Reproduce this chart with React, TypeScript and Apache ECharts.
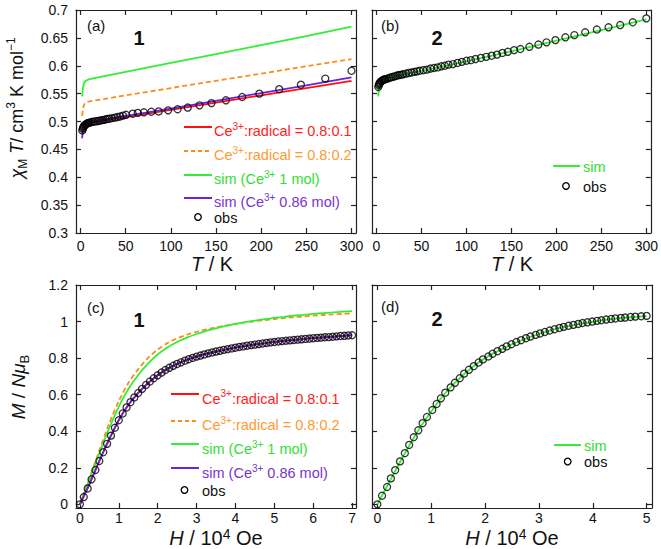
import React, { useEffect, useRef } from "react";
import * as echarts from "echarts";

// ---------- Panel (a): compound 1, chi_M T vs T ----------
const aObsT = [2, 2.5, 3, 3.5, 4, 5, 6, 7, 8, 9, 10, 12, 14, 16, 18, 20, 22, 24, 26, 28, 30, 32, 35, 38, 41, 44, 47, 50.4, 57.8, 63.4, 70.2, 78.4, 86.5, 97, 107.5, 118.7, 131.7, 145, 161, 179, 198, 220, 244, 271, 300];
const aObsChi = [0.484, 0.487, 0.489, 0.491, 0.492, 0.494, 0.495, 0.496, 0.497, 0.4975, 0.498, 0.499, 0.4995, 0.5, 0.5005, 0.501, 0.502, 0.5025, 0.503, 0.504, 0.5045, 0.505, 0.506, 0.507, 0.508, 0.509, 0.5105, 0.512, 0.514, 0.5155, 0.5165, 0.5175, 0.518, 0.52, 0.522, 0.525, 0.529, 0.533, 0.538, 0.544, 0.55, 0.558, 0.566, 0.577, 0.591];
const aSimT = [1.8, 2.5, 3, 4, 5, 7, 10, 50, 100, 150, 200, 250, 300];
const aRed = [0.478, 0.486, 0.49, 0.494, 0.496, 0.497, 0.498, 0.508, 0.521, 0.534, 0.547, 0.56, 0.573];
const aOrange = [0.51, 0.52, 0.525, 0.53, 0.533, 0.535, 0.536, 0.547, 0.56, 0.573, 0.586, 0.599, 0.612];
const aGreen = [0.545, 0.558, 0.563, 0.569, 0.572, 0.574, 0.576, 0.589, 0.605, 0.621, 0.637, 0.653, 0.67];
const aPurple = [0.47, 0.481, 0.486, 0.491, 0.494, 0.497, 0.499, 0.51, 0.523, 0.537, 0.551, 0.565, 0.579];

// ---------- Panel (b): compound 2, chi_M T vs T ----------
const bObsT = [2, 2.5, 3, 3.5, 4, 5, 6, 7, 8, 9, 10, 12, 14, 16, 18, 20, 22, 24, 26, 28, 30, 33, 36, 39, 42, 45, 48, 52, 56, 60, 64, 68, 72, 76, 80, 85, 90, 95, 100, 105, 110, 116, 122, 128, 134, 140, 146, 153, 160, 170, 180, 189, 199, 210, 220, 232, 245, 258, 271, 285, 300];
const bObsChi = [0.562, 0.565, 0.567, 0.569, 0.57, 0.572, 0.573, 0.574, 0.575, 0.5755, 0.576, 0.577, 0.578, 0.579, 0.58, 0.581, 0.582, 0.583, 0.5835, 0.584, 0.585, 0.586, 0.587, 0.588, 0.589, 0.59, 0.591, 0.592, 0.593, 0.595, 0.596, 0.597, 0.599, 0.6, 0.602, 0.603, 0.605, 0.607, 0.609, 0.61, 0.612, 0.614, 0.616, 0.618, 0.62, 0.623, 0.625, 0.628, 0.63, 0.634, 0.638, 0.642, 0.646, 0.651, 0.655, 0.66, 0.665, 0.669, 0.673, 0.678, 0.685];
const bSimT = [1.8, 2.5, 3, 4, 5, 7, 10, 20, 50, 100, 150, 200, 250, 300];
const bSim = [0.545, 0.555, 0.561, 0.566, 0.57, 0.574, 0.577, 0.581, 0.591, 0.608, 0.626, 0.645, 0.664, 0.683];

// ---------- Panel (c): compound 1, M vs H ----------
const cObsH = [0, 0.1, 0.2, 0.3, 0.4, 0.5, 0.6, 0.7, 0.8, 0.9, 1.0, 1.1, 1.2, 1.3, 1.4, 1.5, 1.6, 1.7, 1.8, 1.9, 2.0, 2.1, 2.2, 2.3, 2.4, 2.5, 2.6, 2.7, 2.8, 2.9, 3.0, 3.1, 3.2, 3.3, 3.4, 3.5, 3.6, 3.7, 3.8, 3.9, 4.0, 4.1, 4.2, 4.3, 4.4, 4.5, 4.6, 4.7, 4.8, 4.9, 5.0, 5.1, 5.2, 5.3, 5.4, 5.5, 5.6, 5.7, 5.8, 5.9, 6.0, 6.1, 6.2, 6.3, 6.4, 6.5, 6.6, 6.7, 6.8, 6.9, 7.0];
const cObsM = [0, 0.04, 0.087, 0.137, 0.188, 0.237, 0.285, 0.331, 0.376, 0.419, 0.46, 0.497, 0.53, 0.559, 0.585, 0.609, 0.632, 0.653, 0.672, 0.69, 0.706, 0.721, 0.735, 0.747, 0.758, 0.768, 0.777, 0.786, 0.794, 0.801, 0.808, 0.814, 0.82, 0.826, 0.831, 0.836, 0.84, 0.845, 0.849, 0.853, 0.857, 0.861, 0.864, 0.868, 0.871, 0.874, 0.877, 0.88, 0.883, 0.886, 0.888, 0.891, 0.893, 0.895, 0.897, 0.899, 0.901, 0.903, 0.905, 0.907, 0.909, 0.911, 0.912, 0.914, 0.915, 0.917, 0.919, 0.921, 0.922, 0.924, 0.925];
const cSimH = [0, 0.25, 0.5, 0.75, 1.0, 1.25, 1.5, 1.75, 2.0, 2.25, 2.5, 2.75, 3.0, 3.25, 3.5, 3.75, 4.0, 4.25, 4.5, 4.75, 5.0, 5.25, 5.5, 5.75, 6.0, 6.25, 6.5, 6.75, 7.0];
const cRed = [0, 0.113, 0.238, 0.355, 0.461, 0.546, 0.61, 0.663, 0.707, 0.742, 0.769, 0.791, 0.809, 0.824, 0.837, 0.848, 0.858, 0.867, 0.875, 0.882, 0.889, 0.895, 0.9, 0.905, 0.91, 0.914, 0.918, 0.922, 0.926];
const cOrange = [0, 0.145, 0.295, 0.44, 0.565, 0.665, 0.74, 0.8, 0.847, 0.882, 0.908, 0.928, 0.944, 0.957, 0.968, 0.978, 0.987, 0.995, 1.002, 1.008, 1.014, 1.019, 1.024, 1.028, 1.032, 1.036, 1.039, 1.042, 1.045];
const cGreen = [0, 0.14, 0.28, 0.415, 0.535, 0.632, 0.708, 0.77, 0.82, 0.858, 0.888, 0.912, 0.932, 0.949, 0.963, 0.976, 0.987, 0.997, 1.005, 1.013, 1.02, 1.026, 1.032, 1.037, 1.042, 1.046, 1.05, 1.054, 1.057];
const cPurple = [0, 0.112, 0.237, 0.354, 0.46, 0.545, 0.609, 0.662, 0.706, 0.741, 0.768, 0.79, 0.808, 0.823, 0.836, 0.847, 0.857, 0.866, 0.874, 0.881, 0.888, 0.894, 0.899, 0.904, 0.909, 0.913, 0.917, 0.921, 0.925];

// ---------- Panel (d): compound 2, M vs H ----------
const dObsH = [0, 0.087, 0.18, 0.25, 0.33, 0.42, 0.51, 0.59, 0.675, 0.76, 0.84, 0.92, 1.02, 1.1, 1.18, 1.26, 1.36, 1.44, 1.53, 1.61, 1.7, 1.79, 1.88, 1.96, 2.06, 2.14, 2.23, 2.32, 2.4, 2.49, 2.58, 2.67, 2.76, 2.84, 2.94, 3.02, 3.11, 3.2, 3.29, 3.38, 3.46, 3.55, 3.64, 3.73, 3.81, 3.9, 3.99, 4.08, 4.16, 4.25, 4.34, 4.42, 4.52, 4.6, 4.7, 4.79, 4.9, 5.0];
const dObsM = [0, 0.047, 0.095, 0.142, 0.187, 0.235, 0.28, 0.325, 0.367, 0.405, 0.444, 0.478, 0.516, 0.549, 0.58, 0.611, 0.64, 0.665, 0.69, 0.715, 0.736, 0.756, 0.776, 0.793, 0.809, 0.824, 0.838, 0.851, 0.864, 0.876, 0.888, 0.898, 0.909, 0.918, 0.927, 0.935, 0.943, 0.951, 0.958, 0.965, 0.971, 0.977, 0.982, 0.987, 0.992, 0.996, 1.0, 1.004, 1.007, 1.011, 1.014, 1.017, 1.02, 1.022, 1.025, 1.027, 1.029, 1.031];
const dSimH = [0, 0.25, 0.5, 0.75, 1.0, 1.25, 1.5, 1.75, 2.0, 2.25, 2.5, 2.75, 3.0, 3.25, 3.5, 3.75, 4.0, 4.25, 4.5, 4.75, 5.0];
const dSim = [0, 0.138, 0.274, 0.4, 0.508, 0.605, 0.682, 0.747, 0.8, 0.84, 0.876, 0.906, 0.932, 0.954, 0.973, 0.987, 0.999, 1.01, 1.018, 1.025, 1.03];

// ---------- tick values ----------
const tTicks = [0, 50, 100, 150, 200, 250, 300];
const chiTicks = [0.3, 0.35, 0.4, 0.45, 0.5, 0.55, 0.6, 0.65, 0.7];
const hTicksC = [0, 1, 2, 3, 4, 5, 6, 7];
const hTicksD = [0, 1, 2, 3, 4, 5];
const mTicks = [0, 0.2, 0.4, 0.6, 0.8, 1, 1.2];

const FONT = '"Liberation Sans", Arial, Helvetica, sans-serif';
const AX = "#222";
const RED = "#ff1010";
const ORANGE = "#ff8c1a";
const GREEN = "#33ee33";
const PURPLE = "#6a22dd";
const T_RED = "#ff2222";
const T_ORANGE = "#ff9933";
const T_GREEN = "#33dd33";
const T_PURPLE = "#7a33d6";

const zip = (xs: number[], ys: number[]) => xs.map((x, i) => [x, ys[i]]);

function xPair(grid: number, min: number, max: number, ticks: number[], margin: number) {
  const base = {
    type: "value",
    gridIndex: grid,
    min,
    max,
    splitLine: { show: false },
    axisLine: { show: true, onZero: false, lineStyle: { color: AX, width: 1.2 } },
    axisTick: { show: true, inside: true, length: 5, customValues: ticks, lineStyle: { color: AX, width: 1.2 } },
  };
  return [
    { ...base, position: "bottom", axisLabel: { show: true, customValues: ticks, margin, fontSize: 14, lineHeight: 14, color: "#111", fontFamily: FONT } },
    { ...base, position: "top", axisLabel: { show: false } },
  ];
}

function yPair(grid: number, min: number, max: number, ticks: number[], showLabel: boolean) {
  const base = {
    type: "value",
    gridIndex: grid,
    min,
    max,
    splitLine: { show: false },
    axisLine: { show: true, onZero: false, lineStyle: { color: AX, width: 1.2 } },
    axisTick: { show: true, inside: true, length: 5, customValues: ticks, lineStyle: { color: AX, width: 1.2 } },
  };
  return [
    { ...base, position: "left", axisLabel: { show: showLabel, customValues: ticks, margin: 8, fontSize: 14, color: "#111", fontFamily: FONT } },
    { ...base, position: "right", axisLabel: { show: false } },
  ];
}

function lineSeries(panel: number, data: number[][], color: string, dashed = false, smooth: number | boolean = false) {
  return {
    type: "line",
    xAxisIndex: panel * 2,
    yAxisIndex: panel * 2,
    data,
    showSymbol: false,
    symbol: "none",
    smooth,
    lineStyle: { color, width: 1.8, type: dashed ? [5, 3] : "solid" },
    z: 2,
  };
}

function obsSeries(panel: number, data: number[][]) {
  return {
    type: "scatter",
    xAxisIndex: panel * 2,
    yAxisIndex: panel * 2,
    data,
    symbol: "circle",
    symbolSize: 7,
    itemStyle: { color: "rgba(0,0,0,0)", borderColor: "#000", borderWidth: 1.3 },
    z: 3,
  };
}

function richSet(color: string, size: number, lh: number, supLh: number) {
  const sub = Math.round(size * 0.68);
  return {
    n: { fontSize: size, lineHeight: lh, fill: color, fontFamily: FONT },
    i: { fontSize: size, lineHeight: lh, fill: color, fontFamily: FONT, fontStyle: "italic" },
    sup: { fontSize: sub, lineHeight: supLh || sub + 2, fill: color, fontFamily: FONT, verticalAlign: "top" },
    sub: { fontSize: sub, lineHeight: sub + 2, fill: color, fontFamily: FONT, verticalAlign: "bottom" },
    b: { fontSize: size, lineHeight: lh, fill: color, fontFamily: FONT, fontWeight: "bold" },
  };
}

function txt(x: number, y: number, text: string, color: string, size: number, align = "left", rotation = 0, lh = 0, supLh = 0) {
  return {
    type: "text",
    x,
    y,
    rotation,
    z: 10,
    style: {
      text,
      rich: richSet(color, size, lh || size + 5, supLh),
      fill: color,
      fontSize: size,
      fontFamily: FONT,
      align,
      verticalAlign: "middle",
      textAlign: align,
      textVerticalAlign: "middle",
    },
  };
}

function legLine(x1: number, x2: number, y: number, color: string, dashed = false) {
  return {
    type: "line",
    z: 10,
    shape: { x1, y1: y, x2, y2: y },
    style: { stroke: color, lineWidth: 2, lineDash: dashed ? [4, 3] : null },
  };
}

function legCircle(cx: number, cy: number) {
  return {
    type: "circle",
    z: 10,
    shape: { cx, cy, r: 3.3 },
    style: { stroke: "#000", lineWidth: 1.3, fill: "none" },
  };
}

export default function App() {
  const ref = useRef<HTMLDivElement>(null);

  useEffect(() => {
    document.body.style.margin = "0";
    if (!ref.current) return;
    const chart = echarts.init(ref.current, undefined, { renderer: "svg" });

    const grids = [
      { left: 76, top: 10, width: 280, height: 223 },
      { left: 372, top: 10, width: 280, height: 223 },
      { left: 76, top: 285, width: 280, height: 223 },
      { left: 372, top: 285, width: 280, height: 223 },
    ];

    const xAxis = [
      ...xPair(0, -5, 305, tTicks, 6),
      ...xPair(1, -5, 305, tTicks, 6),
      ...xPair(2, -0.1, 7.1, hTicksC, 3),
      ...xPair(3, -0.1, 5.1, hTicksD, 3),
    ];
    const yAxis = [
      ...yPair(0, 0.3, 0.7, chiTicks, true),
      ...yPair(1, 0.3, 0.7, chiTicks, false),
      ...yPair(2, -0.02, 1.2, mTicks, true),
      ...yPair(3, -0.02, 1.2, mTicks, false),
    ];

    const series = [
      lineSeries(0, zip(aSimT, aRed), RED),
      lineSeries(0, zip(aSimT, aOrange), ORANGE, true),
      lineSeries(0, zip(aSimT, aGreen), GREEN),
      lineSeries(0, zip(aSimT, aPurple), PURPLE),
      obsSeries(0, zip(aObsT, aObsChi)),

      lineSeries(1, zip(bSimT, bSim), GREEN),
      obsSeries(1, zip(bObsT, bObsChi)),

      lineSeries(2, zip(cSimH, cOrange), ORANGE, true, 0.3),
      lineSeries(2, zip(cSimH, cGreen), GREEN, false, 0.3),
      lineSeries(2, zip(cSimH, cRed), RED, false, 0.3),
      lineSeries(2, zip(cSimH, cPurple), PURPLE, false, 0.3),
      obsSeries(2, zip(cObsH, cObsM)),

      lineSeries(3, zip(dSimH, dSim), GREEN, false, 0.3),
      obsSeries(3, zip(dObsH, dObsM)),
    ];

    const graphic = [
      // axis titles
      txt(17, 108, "{i|χ}{sub|M}{i| T}{n|/ cm}{sup|3}{n| K mol}{sup|−1}", "#111", 18, "center", Math.PI / 2, 24),
      txt(18, 387, "{i|M}{n| / }{i|Nμ}{sub|B}", "#111", 19, "center", Math.PI / 2, 25),
      txt(212, 264, "{i|T}{n| / K}", "#111", 20, "center", 0, 18),
      txt(512, 264, "{i|T}{n| / K}", "#111", 20, "center", 0, 18),
      txt(216, 537.5, "{i|H}{n| / 10}{sup|4}{n| Oe}", "#111", 20, "center", 0, 22, 10),
      txt(512, 537.5, "{i|H}{n| / 10}{sup|4}{n| Oe}", "#111", 20, "center", 0, 22, 10),
      // panel labels
      txt(87, 25, "{n|(a)}", "#111", 15),
      txt(139, 38, "{b|1}", "#111", 20, "center"),
      txt(381, 25, "{n|(b)}", "#111", 15),
      txt(437, 38, "{b|2}", "#111", 20, "center"),
      txt(87, 307, "{n|(c)}", "#111", 15),
      txt(139, 320, "{b|1}", "#111", 20, "center"),
      txt(381, 306, "{n|(d)}", "#111", 15),
      txt(437, 319, "{b|2}", "#111", 20, "center"),
      // legend (a)
      legLine(184, 212, 127, RED),
      txt(214, 131, "{n|Ce}{sup|3+}{n|:radical = 0.8:0.1}", T_RED, 14.5),
      legLine(184, 212, 151, ORANGE, true),
      txt(214, 155, "{n|Ce}{sup|3+}{n|:radical = 0.8:0.2}", T_ORANGE, 14.5),
      legLine(184, 212, 175, GREEN),
      txt(214, 179, "{n|sim (Ce}{sup|3+}{n| 1 mol)}", T_GREEN, 14.5),
      legLine(184, 212, 198, PURPLE),
      txt(214, 202, "{n|sim (Ce}{sup|3+}{n| 0.86 mol)}", T_PURPLE, 14.5),
      legCircle(198, 217),
      txt(214, 218, "{n|obs}", "#111", 14.5),
      // legend (b)
      legLine(553, 580, 166, GREEN),
      txt(583, 167, "{n|sim}", T_GREEN, 14.5),
      legCircle(566, 186),
      txt(583, 187, "{n|obs}", "#111", 14.5),
      // legend (c)
      legLine(171, 199, 394, RED),
      txt(202, 398.5, "{n|Ce}{sup|3+}{n|:radical = 0.8:0.1}", T_RED, 14.5),
      legLine(171, 199, 421, ORANGE, true),
      txt(202, 425, "{n|Ce}{sup|3+}{n|:radical = 0.8:0.2}", T_ORANGE, 14.5),
      legLine(171, 199, 444, GREEN),
      txt(202, 449, "{n|sim (Ce}{sup|3+}{n| 1 mol)}", T_GREEN, 14.5),
      legLine(171, 199, 468, PURPLE),
      txt(202, 473, "{n|sim (Ce}{sup|3+}{n| 0.86 mol)}", T_PURPLE, 14.5),
      legCircle(184.5, 490),
      txt(202, 490.5, "{n|obs}", "#111", 14.5),
      // legend (d)
      legLine(554, 581, 445, GREEN),
      txt(584, 446, "{n|sim}", T_GREEN, 14.5),
      legCircle(567.7, 461.5),
      txt(584, 462, "{n|obs}", "#111", 14.5),
    ];

    chart.setOption({
      animation: false,
      backgroundColor: "#ffffff",
      textStyle: { fontFamily: FONT },
      grid: grids,
      xAxis,
      yAxis,
      series,
      graphic,
    });

    return () => {
      chart.dispose();
    };
  }, []);

  return <div ref={ref} style={{ width: 661, height: 549 }} />;
}
